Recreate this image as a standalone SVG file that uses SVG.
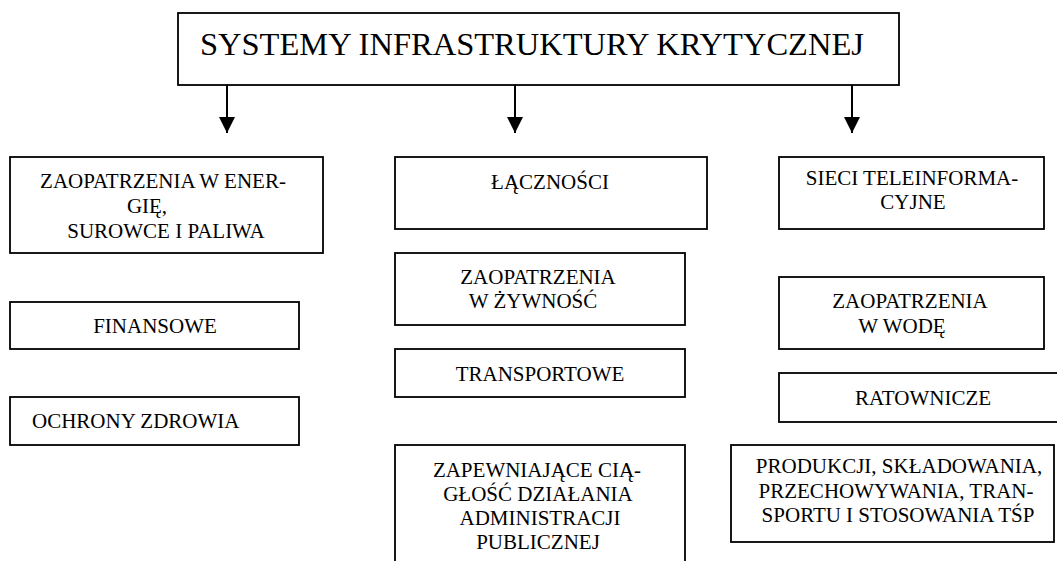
<svg xmlns="http://www.w3.org/2000/svg" width="1057" height="561" viewBox="0 0 1057 561">
  <style>
    .box { fill: #ffffff; stroke: #000000; stroke-width: 1.8; }
    .t { font-family: "Liberation Serif", "Times New Roman", serif; font-size: 21px; fill: #000000; text-anchor: middle; }
    .title { font-family: "Liberation Serif", "Times New Roman", serif; font-size: 32.5px; fill: #000000; }
    .conn { stroke: #000000; stroke-width: 2; fill: none; marker-end: url(#arrow); }
  </style>
  <defs>
    <marker id="arrow" viewBox="0 0 16 16" refX="16" refY="8" markerWidth="16" markerHeight="16" markerUnits="userSpaceOnUse" orient="auto">
      <path d="M0,0 L16,8 L0,16 Z" fill="#000000"/>
    </marker>
  </defs>
  <rect width="1057" height="561" fill="#ffffff"/>

  <g id="root">
    <rect class="box" x="178" y="13" width="721" height="72"/>
    <text class="title" x="200" y="55">SYSTEMY INFRASTRUKTURY KRYTYCZNEJ</text>
  </g>

  <g id="connectors">
    <line class="conn" x1="227" y1="85" x2="227" y2="133"/>
    <line class="conn" x1="515" y1="85" x2="515" y2="133"/>
    <line class="conn" x1="852" y1="85" x2="852" y2="133"/>
  </g>

  <g id="energia">
    <rect class="box" x="10" y="157" width="313" height="96"/>
    <text class="t" x="163" y="188">ZAOPATRZENIA W ENER-</text>
    <text class="t" x="147" y="213">GIĘ,</text>
    <text class="t" x="166" y="238">SUROWCE I PALIWA</text>
  </g>

  <g id="finansowe">
    <rect class="box" x="10" y="302" width="289" height="47"/>
    <text class="t" x="155" y="333">FINANSOWE</text>
  </g>

  <g id="zdrowie">
    <rect class="box" x="10" y="397" width="289" height="48"/>
    <text class="t" x="32" y="428" style="text-anchor:start">OCHRONY ZDROWIA</text>
  </g>

  <g id="lacznosc">
    <rect class="box" x="395" y="157" width="312" height="72"/>
    <text class="t" x="550" y="189">ŁĄCZNOŚCI</text>
  </g>

  <g id="zywnosc">
    <rect class="box" x="395" y="253" width="290" height="72"/>
    <text class="t" x="538" y="284">ZAOPATRZENIA</text>
    <text class="t" x="533" y="308">W ŻYWNOŚĆ</text>
  </g>

  <g id="transport">
    <rect class="box" x="395" y="349" width="290" height="48"/>
    <text class="t" x="540" y="381">TRANSPORTOWE</text>
  </g>

  <g id="administracja">
    <rect class="box" x="395" y="445" width="290" height="130"/>
    <text class="t" x="537" y="477">ZAPEWNIAJĄCE CIĄ-</text>
    <text class="t" x="538" y="501">GŁOŚĆ DZIAŁANIA</text>
    <text class="t" x="540" y="525">ADMINISTRACJI</text>
    <text class="t" x="538" y="549">PUBLICZNEJ</text>
  </g>

  <g id="teleinformatyczne">
    <rect class="box" x="779" y="157" width="265" height="72"/>
    <text class="t" x="912" y="185">SIECI TELEINFORMA-</text>
    <text class="t" x="913" y="209">CYJNE</text>
  </g>

  <g id="woda">
    <rect class="box" x="779" y="277" width="265" height="72"/>
    <text class="t" x="910" y="308">ZAOPATRZENIA</text>
    <text class="t" x="902" y="333">W WODĘ</text>
  </g>

  <g id="ratownicze">
    <rect class="box" x="779" y="373" width="290" height="49"/>
    <text class="t" x="923" y="405">RATOWNICZE</text>
  </g>

  <g id="tsp">
    <rect class="box" x="731" y="445" width="323" height="97"/>
    <text class="t" x="899" y="473">PRODUKCJI, SKŁADOWANIA,</text>
    <text class="t" x="896" y="498">PRZECHOWYWANIA, TRAN-</text>
    <text class="t" x="898" y="522">SPORTU I STOSOWANIA TŚP</text>
  </g>
</svg>
